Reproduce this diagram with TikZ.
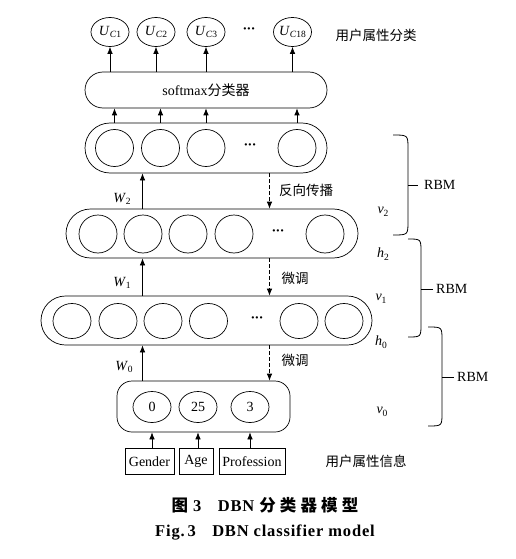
\documentclass[tikz,border=0pt]{standalone}
\usepackage{fontspec}
\setmainfont{Liberation Serif}
\newfontfamily\cjk{Noto Sans CJK SC}
\usepackage{tikz}
\usetikzlibrary{arrows.meta,shapes.geometric}
\newcommand{\sym}[2]{\textit{#1}\raisebox{-0.4ex}{\fontsize{9.5}{10}\selectfont #2}}
\newcommand{\mdots}{\textbf{·\kern-0.5pt·\kern-0.5pt·}}
\tikzset{
    unit/.style = {
        draw=black,
        ellipse,
        inner sep=0pt,
        line width=0.7pt,
        minimum width=38pt,
        minimum height=37pt
    },
    layerbox/.style = {
        draw=black,
        rectangle,
        line width=0.7pt,
        inner sep=0pt
    },
    inbox/.style = {
        draw=black,
        rectangle,
        line width=0.7pt,
        inner sep=0pt,
        minimum height=26pt
    },
    arr/.style = {
        line width=0.7pt,
        -{Latex[length=7pt,width=5.5pt]}
    },
    dasharr/.style = {
        arr,
        dash pattern=on 3.5pt off 2.5pt
    },
    bracket/.style = {
        line width=0.8pt
    },
    cnlabel/.style = {
        font=\cjk\fontsize{13.5}{15}\selectfont
    },
    caption/.style = {
        font=\fontsize{16.5}{18}\selectfont\bfseries\addfontfeature{LetterSpace=5}
    }
}

\begin{document}
\begin{tikzpicture}[x=1pt, y=-1pt, font=\fontsize{14}{16}\selectfont]
    \useasboundingbox (0,0) rectangle (516,559);
    % output units
    \node [unit, minimum height=29pt] (u1) at (110,32) {\sym{U}{\textit{C}1}};
    \node [unit, minimum height=29pt] (u2) at (156,32) {\sym{U}{\textit{C}2}};
    \node [unit, minimum height=29pt] (u3) at (206,32) {\sym{U}{\textit{C}3}};
    \node (udots) at (249,31) {\mdots};
    \node [unit, minimum height=29pt] (u4) at (292.5,32) {\sym{U}{\textit{C}18}};
    \node [cnlabel] (outtxt) at (376,35) {用户属性分类};

    % softmax
    \node [layerbox, minimum width=242pt, minimum height=36pt, rounded corners=18pt] (sm) at (206,90) {softmax{\cjk 分类器}};
    \foreach \i in {1,...,4}
        \draw [arr] (u\i |- sm.north) -- (u\i.south);

    % layers
    \node [layerbox, minimum width=242pt, minimum height=50pt, rounded corners=25pt] (L3) at (206,148) {};
    \node [layerbox, minimum width=292pt, minimum height=49pt, rounded corners=24.5pt] (L2) at (212,233.5) {};
    \node [layerbox, minimum width=331pt, minimum height=49pt, rounded corners=24.5pt] (L1) at (206.5,320.5) {};
    \node [layerbox, minimum width=173pt, minimum height=51pt, rounded corners=15pt] (L0) at (203.5,406.5) {};

    \foreach \x [count=\i] in {114.5,160.5,206,297}
        \node [unit] (a\i) at (\x,148) {};
    \node (adots) at (250,147) {\mdots};
    \foreach \x [count=\i] in {98,143,188,234,325}
        \node [unit, minimum height=38pt] (b\i) at (\x,234) {};
    \node (bdots) at (278,233) {\mdots};
    \foreach \x [count=\i] in {72,118,163,208.5,299,344}
        \node [unit, minimum height=35pt] (c\i) at (\x,321) {};
    \node (cdots) at (257,320) {\mdots};
    \node [unit, minimum height=31pt] (d1) at (152,407) {0};
    \node [unit, minimum height=31pt] (d2) at (198,407) {25};
    \node [unit, minimum height=31pt] (d3) at (250,407) {3};

    \foreach \i in {1,...,4}
        \draw [arr] (a\i |- L3.north) -- (a\i |- sm.south);

    % weights and fine tuning
    \coordinate (wx) at (142.5,0);
    \coordinate (dx) at (269.5,0);
    \draw [arr] (wx |- L2.north) -- (wx |- L3.south);
    \draw [arr] (wx |- L1.north) -- (wx |- L2.south);
    \draw [arr] (wx |- L0.north) -- (wx |- L1.south);
    \draw [dasharr] (dx |- L3.south) -- (dx |- L2.north);
    \draw [dasharr] (dx |- L2.south) -- (dx |- L1.north);
    \draw [dasharr] (dx |- L1.south) -- (dx |- L0.north);
    \node (w2) at (122,199) {\sym{W}{2}};
    \node (w1) at (122,283) {\sym{W}{1}};
    \node (w0) at (124,367) {\sym{W}{0}};
    \node [cnlabel] (bp) at (306,190) {反向传播};
    \node [cnlabel] (ft1) at (295,278) {微调};
    \node [cnlabel] (ft0) at (295,360) {微调};

    % visible / hidden labels
    \node (v2) at (383,212) {\sym{v}{2}};
    \node (h2) at (383,254) {\sym{h}{2}};
    \node (v1) at (381,299) {\sym{v}{1}};
    \node (h0) at (381,342) {\sym{h}{0}};
    \node (v0) at (382,412) {\sym{v}{0}};

    % RBM brackets
    \draw [bracket] (393,135) .. controls (408,135) .. (408,149) -- (408,221) .. controls (408,235) .. (393,235);
    \draw [bracket] (408,239) .. controls (421,239) .. (421,252) -- (421,324) .. controls (421,337) .. (408,337);
    \draw [bracket] (428,327) .. controls (442,327) .. (442,340) -- (442,413) .. controls (442,426) .. (428,426);
    \coordinate (k1) at (408,185);
    \coordinate (k2) at (421,289);
    \coordinate (k3) at (442,377);
    \node [anchor=west, inner sep=0pt] (rbm1) at (424,185) {RBM};
    \node [anchor=west, inner sep=0pt] (rbm2) at (436,289) {RBM};
    \node [anchor=west, inner sep=0pt] (rbm3) at (457,377) {RBM};
    \draw [bracket] (k1) -- ++(10,0);
    \draw [bracket] (k2) -- ++(12,0);
    \draw [bracket] (k3) -- ++(12,0);

    % inputs
    \node [inbox, minimum width=49pt] (gender) at (149.5,461.5) {Gender};
    \node [inbox, minimum width=34pt] (age) at (196,461.5) {Age};
    \node [inbox, minimum width=66pt] (prof) at (252,461.5) {Profession};
    \draw [arr] (gender.north -| d1) -- (d1 |- L0.south);
    \draw [arr] (age.north -| d2) -- (d2 |- L0.south);
    \draw [arr] (prof.north -| d3) -- (d3 |- L0.south);
    \node [cnlabel] (intxt) at (366,461) {用户属性信息};

    % caption
    \node [caption] (cap1) at (265,505) {{\cjk 图}\ 3\quad DBN\ {\cjk\addfontfeature{LetterSpace=25}分类器模型}};
    \node [caption] (cap2) at (265,533) {Fig.\,3\quad DBN classifier model};
\end{tikzpicture}
\end{document}
